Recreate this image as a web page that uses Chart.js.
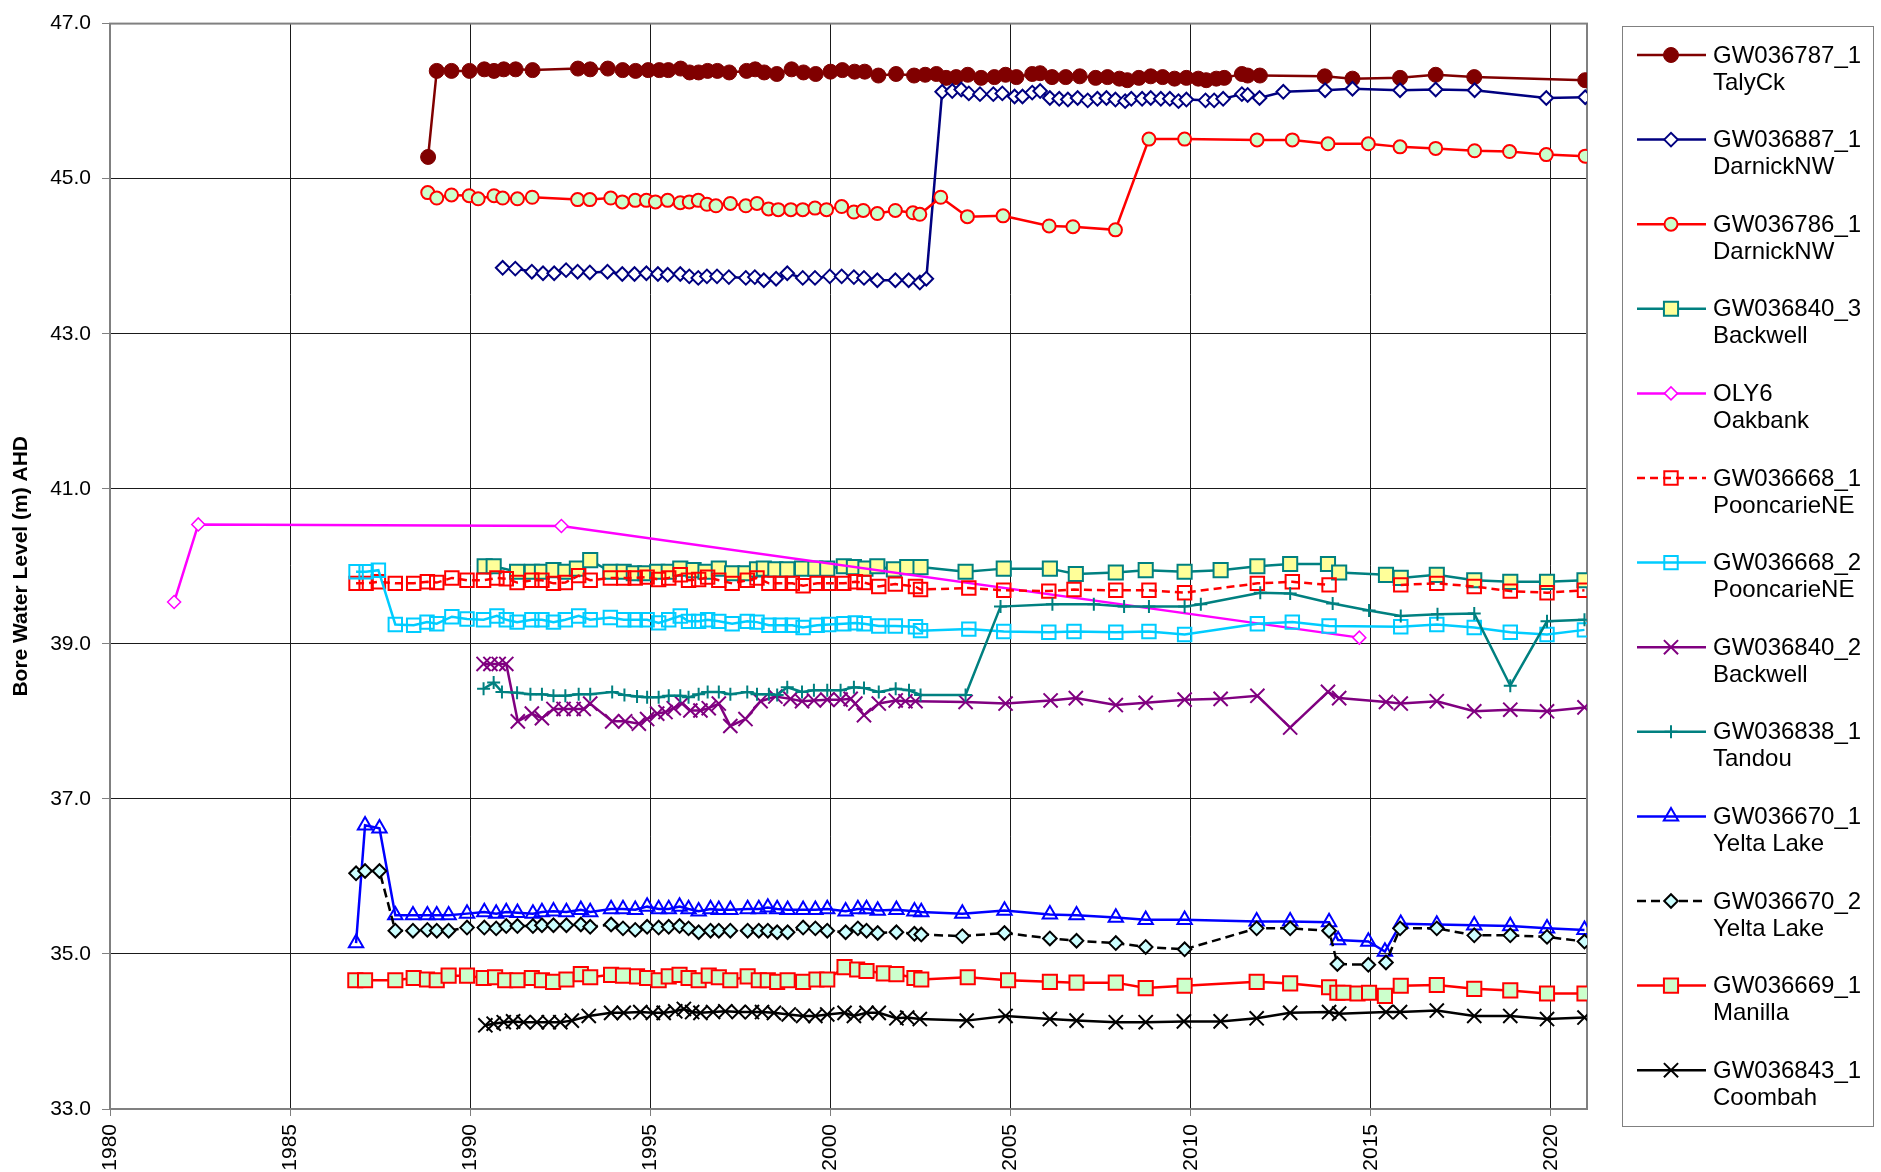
<!DOCTYPE html>
<html>
<head>
<meta charset="utf-8">
<title>Bore Water Levels</title>
<script src="https://cdn.jsdelivr.net/npm/chart.js@4.4.1/dist/chart.umd.min.js"></script>
<style>
    html, body { margin: 0; padding: 0; background: #fff; }
    canvas { display: block; }
</style>
</head>
<body>
<canvas id="levels" width="1881" height="1172"></canvas>
<script>
// bore ids and site names (two lines in the legend)
var boreIds = ["GW036787_1", "GW036887_1", "GW036786_1", "GW036840_3", "OLY6", "GW036668_1", "GW036668_2",
    "GW036840_2", "GW036838_1", "GW036670_1", "GW036670_2", "GW036669_1", "GW036843_1"];
var boreSites = ["TalyCk", "DarnickNW", "DarnickNW", "Backwell", "Oakbank", "PooncarieNE", "PooncarieNE",
    "Backwell", "Tandou", "Yelta Lake", "Yelta Lake", "Manilla", "Coombah"];

var yearTicks = [1980, 1985, 1990, 1995, 2000, 2005, 2010, 2015, 2020];
var levelTicks = [33, 35, 37, 39, 41, 43, 45, 47];

// [decimal year, level m AHD]
var talyCk = [[1988.83, 45.28], [1989.07, 46.39], [1989.48, 46.39], [1989.98, 46.39], [1990.39, 46.41], [1990.66, 46.39],
    [1990.93, 46.41], [1991.26, 46.41], [1991.73, 46.40], [1992.99, 46.42], [1993.33, 46.41], [1993.82, 46.42],
    [1994.23, 46.40], [1994.59, 46.39], [1994.94, 46.40], [1995.25, 46.40], [1995.50, 46.40], [1995.84, 46.42],
    [1996.09, 46.37], [1996.34, 46.37], [1996.59, 46.39], [1996.86, 46.39], [1997.19, 46.37], [1997.67, 46.39],
    [1997.91, 46.41], [1998.16, 46.37], [1998.51, 46.35], [1998.92, 46.41], [1999.25, 46.37], [1999.59, 46.35],
    [2000.00, 46.38], [2000.33, 46.40], [2000.67, 46.38], [2000.95, 46.38], [2001.33, 46.33], [2001.82, 46.35],
    [2002.32, 46.33], [2002.63, 46.34], [2002.94, 46.35], [2003.21, 46.30], [2003.49, 46.31], [2003.81, 46.34],
    [2004.18, 46.30], [2004.55, 46.31], [2004.86, 46.34], [2005.16, 46.31], [2005.60, 46.35], [2005.82, 46.36],
    [2006.15, 46.31], [2006.53, 46.31], [2006.92, 46.32], [2007.36, 46.30], [2007.69, 46.31], [2008.02, 46.29],
    [2008.24, 46.27], [2008.56, 46.30], [2008.89, 46.32], [2009.22, 46.31], [2009.55, 46.29], [2009.88, 46.30],
    [2010.21, 46.29], [2010.43, 46.27], [2010.71, 46.29], [2010.93, 46.30], [2011.42, 46.35], [2011.58, 46.33],
    [2011.92, 46.33], [2013.72, 46.32], [2014.49, 46.29], [2015.81, 46.30], [2016.80, 46.34], [2017.87, 46.31],
    [2020.95, 46.27]];

var darnick887 = [[1990.90, 43.85], [1991.25, 43.84], [1991.71, 43.80], [1992.02, 43.78], [1992.33, 43.78], [1992.66, 43.82],
    [1992.98, 43.80], [1993.32, 43.79], [1993.81, 43.80], [1994.22, 43.77], [1994.56, 43.77], [1994.89, 43.78],
    [1995.21, 43.77], [1995.48, 43.76], [1995.83, 43.77], [1996.08, 43.74], [1996.33, 43.72], [1996.57, 43.74],
    [1996.85, 43.74], [1997.18, 43.73], [1997.65, 43.72], [1997.90, 43.73], [1998.15, 43.69], [1998.49, 43.71],
    [1998.80, 43.78], [1999.23, 43.72], [1999.57, 43.72], [1999.98, 43.74], [2000.31, 43.74], [2000.65, 43.73],
    [2000.93, 43.72], [2001.30, 43.69], [2001.80, 43.69], [2002.17, 43.69], [2002.48, 43.66], [2002.66, 43.71],
    [2003.10, 46.12], [2003.38, 46.13], [2003.63, 46.15], [2003.84, 46.10], [2004.15, 46.09], [2004.52, 46.09],
    [2004.77, 46.10], [2005.11, 46.06], [2005.33, 46.06], [2005.60, 46.11], [2005.82, 46.13], [2006.09, 46.04],
    [2006.35, 46.03], [2006.59, 46.02], [2006.86, 46.04], [2007.14, 46.01], [2007.41, 46.03], [2007.66, 46.04],
    [2007.91, 46.02], [2008.18, 46.00], [2008.35, 46.03], [2008.65, 46.03], [2008.89, 46.04], [2009.17, 46.03],
    [2009.42, 46.03], [2009.66, 46.00], [2009.88, 46.02], [2010.41, 46.01], [2010.65, 46.01], [2010.90, 46.03],
    [2011.42, 46.09], [2011.58, 46.08], [2011.91, 46.04], [2012.57, 46.12], [2013.73, 46.14], [2014.49, 46.16],
    [2015.81, 46.14], [2016.80, 46.15], [2017.88, 46.14], [2019.87, 46.04], [2020.95, 46.05]];

var darnick786 = [[1988.82, 44.82], [1989.07, 44.75], [1989.48, 44.79], [1989.97, 44.78], [1990.22, 44.74], [1990.66, 44.78],
    [1990.90, 44.75], [1991.31, 44.74], [1991.72, 44.76], [1992.98, 44.73], [1993.32, 44.73], [1993.90, 44.75],
    [1994.22, 44.70], [1994.58, 44.72], [1994.89, 44.72], [1995.14, 44.70], [1995.48, 44.72], [1995.83, 44.69],
    [1996.08, 44.70], [1996.33, 44.72], [1996.57, 44.67], [1996.82, 44.65], [1997.22, 44.68], [1997.65, 44.65],
    [1997.96, 44.68], [1998.28, 44.61], [1998.55, 44.60], [1998.90, 44.60], [1999.23, 44.60], [1999.57, 44.62],
    [1999.89, 44.60], [2000.31, 44.64], [2000.65, 44.57], [2000.91, 44.59], [2001.30, 44.55], [2001.80, 44.59],
    [2002.29, 44.56], [2002.48, 44.54], [2003.06, 44.76], [2003.80, 44.51], [2004.79, 44.52], [2006.07, 44.39],
    [2006.73, 44.38], [2007.91, 44.34], [2008.84, 45.51], [2009.83, 45.51], [2011.84, 45.50], [2012.82, 45.50],
    [2013.81, 45.45], [2014.93, 45.45], [2015.81, 45.41], [2016.80, 45.39], [2017.88, 45.36], [2018.85, 45.35],
    [2019.87, 45.31], [2020.95, 45.29]];

var backwell3 = [[1990.40, 40.00], [1990.65, 40.00], [1991.30, 39.93], [1991.71, 39.93], [1991.99, 39.93], [1992.31, 39.95],
    [1992.64, 39.93], [1992.96, 39.97], [1993.33, 40.08], [1993.89, 39.93], [1994.26, 39.93], [1994.54, 39.91],
    [1994.86, 39.91], [1995.19, 39.93], [1995.51, 39.93], [1995.83, 39.97], [1996.20, 39.95], [1996.53, 39.93],
    [1996.90, 39.97], [1997.27, 39.91], [1997.64, 39.91], [1997.96, 39.96], [1998.15, 39.97], [1998.47, 39.96],
    [1998.80, 39.96], [1999.21, 39.97], [1999.58, 39.97], [1999.91, 39.97], [2000.37, 40.00], [2000.65, 39.99],
    [2000.97, 39.97], [2001.30, 40.00], [2001.76, 39.96], [2002.13, 39.99], [2002.50, 39.99], [2003.75, 39.93],
    [2004.81, 39.97], [2006.09, 39.97], [2006.81, 39.90], [2007.92, 39.92], [2008.75, 39.95], [2009.83, 39.93],
    [2010.83, 39.95], [2011.85, 40.00], [2012.76, 40.03], [2013.81, 40.03], [2014.12, 39.92], [2015.42, 39.89],
    [2015.83, 39.85], [2016.83, 39.89], [2017.87, 39.82], [2018.87, 39.80], [2019.89, 39.80], [2020.93, 39.82]];

var oakbank = [[1981.78, 39.54], [1982.45, 40.54], [1992.53, 40.52], [2014.68, 39.08]];

var pooncarie1 = [[1986.83, 39.78], [1987.11, 39.78], [1987.45, 39.80], [1987.92, 39.78], [1988.43, 39.78], [1988.81, 39.80],
    [1989.07, 39.79], [1989.49, 39.85], [1989.91, 39.82], [1990.37, 39.82], [1990.74, 39.85], [1991.00, 39.84],
    [1991.30, 39.79], [1991.71, 39.82], [1991.99, 39.82], [1992.31, 39.78], [1992.64, 39.79], [1993.01, 39.88],
    [1993.33, 39.82], [1993.89, 39.85], [1994.26, 39.85], [1994.58, 39.85], [1994.91, 39.86], [1995.23, 39.83],
    [1995.51, 39.85], [1995.83, 39.89], [1996.06, 39.82], [1996.34, 39.83], [1996.59, 39.86], [1996.90, 39.82],
    [1997.27, 39.78], [1997.69, 39.82], [1997.96, 39.85], [1998.29, 39.78], [1998.61, 39.78], [1998.94, 39.78],
    [1999.24, 39.75], [1999.63, 39.78], [1999.95, 39.78], [2000.37, 39.78], [2000.69, 39.80], [2000.93, 39.79],
    [2001.34, 39.74], [2001.80, 39.77], [2002.36, 39.74], [2002.50, 39.70], [2003.84, 39.72], [2004.81, 39.69],
    [2006.06, 39.68], [2006.76, 39.70], [2007.92, 39.69], [2008.84, 39.69], [2009.83, 39.66], [2011.85, 39.78],
    [2012.82, 39.80], [2013.84, 39.76], [2014.80, null], [2015.83, 39.76], [2016.83, 39.78], [2017.87, 39.74],
    [2018.87, 39.68], [2019.89, 39.66], [2020.93, 39.69]];

var pooncarie2 = [[1986.83, 39.93], [1987.11, 39.93], [1987.45, 39.95], [1987.92, 39.25], [1988.43, 39.24], [1988.80, 39.28],
    [1989.07, 39.26], [1989.49, 39.35], [1989.91, 39.32], [1990.37, 39.31], [1990.74, 39.36], [1991.00, 39.31],
    [1991.30, 39.28], [1991.71, 39.31], [1991.99, 39.31], [1992.31, 39.28], [1992.64, 39.31], [1993.01, 39.36],
    [1993.33, 39.31], [1993.89, 39.34], [1994.26, 39.31], [1994.58, 39.31], [1994.91, 39.31], [1995.23, 39.27],
    [1995.51, 39.31], [1995.83, 39.36], [1996.06, 39.29], [1996.34, 39.29], [1996.59, 39.31], [1996.90, 39.29],
    [1997.27, 39.26], [1997.69, 39.29], [1997.96, 39.28], [1998.29, 39.24], [1998.61, 39.24], [1998.94, 39.24],
    [1999.24, 39.21], [1999.63, 39.24], [1999.95, 39.25], [2000.37, 39.26], [2000.69, 39.27], [2000.93, 39.26],
    [2001.34, 39.23], [2001.80, 39.23], [2002.36, 39.22], [2002.50, 39.17], [2003.84, 39.19], [2004.81, 39.16],
    [2006.06, 39.15], [2006.76, 39.16], [2007.92, 39.15], [2008.84, 39.16], [2009.83, 39.12], [2011.85, 39.26],
    [2012.82, 39.28], [2013.84, 39.23], [2015.83, 39.22], [2016.83, 39.25], [2017.87, 39.21], [2018.87, 39.15],
    [2019.89, 39.12], [2020.93, 39.18]];

var backwell2 = [[1990.37, 38.74], [1990.56, 38.74], [1990.79, 38.74], [1991.00, 38.74], [1991.32, 38.00], [1991.71, 38.10],
    [1991.99, 38.04], [1992.31, 38.16], [1992.59, 38.16], [1992.87, 38.16], [1993.15, 38.16], [1993.33, 38.23],
    [1993.94, 38.00], [1994.30, 38.00], [1994.68, 37.97], [1994.91, 38.03], [1995.19, 38.10], [1995.42, 38.12],
    [1995.65, 38.17], [1995.88, 38.23], [1996.11, 38.14], [1996.39, 38.14], [1996.62, 38.17], [1996.90, 38.23],
    [1997.22, 37.94], [1997.64, 38.03], [1998.06, 38.26], [1998.47, 38.32], [1998.89, 38.29], [1999.21, 38.26],
    [1999.54, 38.27], [1999.91, 38.28], [2000.28, 38.28], [2000.56, 38.29], [2000.69, 38.23], [2000.93, 38.08],
    [2001.34, 38.23], [2001.81, 38.27], [2002.08, 38.26], [2002.36, 38.26], [2003.75, 38.25], [2004.86, 38.23],
    [2006.11, 38.27], [2006.81, 38.30], [2007.92, 38.21], [2008.75, 38.24], [2009.83, 38.28], [2010.83, 38.29],
    [2011.85, 38.33], [2012.76, 37.92], [2013.81, 38.38], [2014.12, 38.30], [2015.42, 38.25], [2015.83, 38.23],
    [2016.83, 38.26], [2017.87, 38.13], [2018.87, 38.15], [2019.89, 38.13], [2020.93, 38.18]];

var tandou = [[1990.37, 38.42], [1990.65, 38.50], [1990.88, 38.38], [1991.30, 38.37], [1991.67, 38.35], [1991.99, 38.35],
    [1992.31, 38.33], [1992.64, 38.33], [1993.01, 38.35], [1993.33, 38.35], [1993.94, 38.38], [1994.28, 38.34],
    [1994.63, 38.32], [1994.91, 38.31], [1995.23, 38.31], [1995.51, 38.33], [1995.83, 38.33], [1996.06, 38.31],
    [1996.34, 38.35], [1996.59, 38.38], [1996.90, 38.38], [1997.22, 38.35], [1997.69, 38.38], [1997.96, 38.35],
    [1998.29, 38.35], [1998.52, 38.34], [1998.80, 38.44], [1999.21, 38.38], [1999.54, 38.40], [1999.91, 38.40],
    [2000.28, 38.40], [2000.65, 38.44], [2000.93, 38.43], [2001.34, 38.38], [2001.81, 38.42], [2002.18, 38.40],
    [2002.50, 38.34], [2003.75, 38.34], [2004.72, 39.48], [2006.16, 39.51], [2007.31, 39.51], [2008.15, 39.48],
    [2008.84, 39.48], [2009.83, 39.48], [2010.28, 39.51], [2011.93, 39.66], [2012.76, 39.65], [2013.94, 39.52],
    [2014.95, 39.43], [2015.83, 39.36], [2016.85, 39.38], [2017.87, 39.39], [2018.87, 38.46], [2019.89, 39.29],
    [2020.93, 39.31]];

var yelta1 = [[1986.83, 35.14], [1987.08, 36.66], [1987.48, 36.62], [1987.92, 35.50], [1988.41, 35.50], [1988.81, 35.50],
    [1989.07, 35.50], [1989.40, 35.50], [1989.91, 35.52], [1990.39, 35.54], [1990.72, 35.52], [1991.00, 35.54],
    [1991.31, 35.53], [1991.74, 35.52], [1991.99, 35.54], [1992.31, 35.55], [1992.67, 35.54], [1993.07, 35.57],
    [1993.33, 35.54], [1993.91, 35.58], [1994.24, 35.58], [1994.58, 35.57], [1994.91, 35.61], [1995.23, 35.58],
    [1995.51, 35.58], [1995.81, 35.61], [1996.06, 35.58], [1996.34, 35.55], [1996.67, 35.58], [1996.90, 35.57],
    [1997.22, 35.57], [1997.70, 35.58], [1998.01, 35.58], [1998.26, 35.60], [1998.52, 35.58], [1998.81, 35.57],
    [1999.24, 35.57], [1999.58, 35.57], [1999.91, 35.58], [2000.42, 35.55], [2000.76, 35.58], [2001.00, 35.58],
    [2001.31, 35.56], [2001.83, 35.57], [2002.33, 35.55], [2002.52, 35.54], [2003.66, 35.52], [2004.83, 35.56],
    [2006.09, 35.51], [2006.83, 35.50], [2007.92, 35.47], [2008.75, 35.44], [2009.83, 35.44], [2011.83, 35.42],
    [2012.76, 35.42], [2013.84, 35.41], [2014.09, 35.18], [2014.93, 35.16], [2015.39, 35.03], [2015.83, 35.39],
    [2016.83, 35.38], [2017.87, 35.37], [2018.87, 35.36], [2019.89, 35.33], [2020.93, 35.31]];

var yelta2 = [[1986.83, 36.04], [1987.08, 36.07], [1987.48, 36.07], [1987.92, 35.30], [1988.41, 35.30], [1988.81, 35.31],
    [1989.07, 35.30], [1989.40, 35.30], [1989.91, 35.34], [1990.39, 35.34], [1990.72, 35.33], [1991.00, 35.36],
    [1991.31, 35.36], [1991.74, 35.36], [1991.99, 35.37], [1992.31, 35.37], [1992.67, 35.37], [1993.07, 35.38],
    [1993.33, 35.35], [1993.91, 35.38], [1994.24, 35.33], [1994.58, 35.31], [1994.91, 35.35], [1995.23, 35.34],
    [1995.51, 35.35], [1995.81, 35.36], [1996.06, 35.33], [1996.34, 35.28], [1996.67, 35.30], [1996.90, 35.30],
    [1997.22, 35.30], [1997.70, 35.30], [1998.01, 35.30], [1998.26, 35.30], [1998.52, 35.28], [1998.81, 35.28],
    [1999.24, 35.34], [1999.58, 35.33], [1999.91, 35.30], [2000.42, 35.28], [2000.76, 35.33], [2001.00, 35.30],
    [2001.31, 35.27], [2001.83, 35.28], [2002.33, 35.26], [2002.52, 35.25], [2003.66, 35.23], [2004.83, 35.27],
    [2006.09, 35.20], [2006.83, 35.17], [2007.92, 35.14], [2008.75, 35.09], [2009.83, 35.06], [2011.83, 35.33],
    [2012.76, 35.33], [2013.84, 35.30], [2014.07, 34.87], [2014.93, 34.86], [2015.42, 34.89], [2015.81, 35.33],
    [2016.83, 35.33], [2017.87, 35.24], [2018.87, 35.24], [2019.89, 35.22], [2020.93, 35.16]];

var manilla = [[1986.81, 34.66], [1987.08, 34.66], [1987.92, 34.66], [1988.43, 34.69], [1988.80, 34.67], [1989.07, 34.66],
    [1989.40, 34.72], [1989.91, 34.72], [1990.37, 34.69], [1990.69, 34.70], [1990.97, 34.66], [1991.31, 34.66],
    [1991.71, 34.69], [1991.99, 34.66], [1992.30, 34.64], [1992.67, 34.67], [1993.07, 34.74], [1993.33, 34.70],
    [1993.91, 34.73], [1994.24, 34.72], [1994.63, 34.71], [1994.91, 34.69], [1995.23, 34.66], [1995.51, 34.71],
    [1995.81, 34.73], [1996.06, 34.69], [1996.34, 34.66], [1996.62, 34.72], [1996.90, 34.70], [1997.22, 34.66],
    [1997.70, 34.71], [1998.01, 34.66], [1998.26, 34.66], [1998.52, 34.64], [1998.81, 34.66], [1999.24, 34.64],
    [1999.61, 34.67], [1999.91, 34.67], [2000.39, 34.83], [2000.74, 34.80], [2001.00, 34.78], [2001.48, 34.75],
    [2001.83, 34.74], [2002.33, 34.69], [2002.52, 34.67], [2003.81, 34.70], [2004.93, 34.66], [2006.09, 34.64],
    [2006.83, 34.63], [2007.92, 34.63], [2008.75, 34.56], [2009.83, 34.59], [2011.83, 34.64], [2012.76, 34.62],
    [2013.84, 34.57], [2014.07, 34.50], [2014.24, 34.50], [2014.63, 34.49], [2014.95, 34.50], [2015.39, 34.46],
    [2015.83, 34.59], [2016.83, 34.60], [2017.87, 34.55], [2018.87, 34.53], [2019.89, 34.49], [2020.93, 34.49]];

var coombah = [[1990.42, 34.08], [1990.65, 34.10], [1990.93, 34.12], [1991.19, 34.13], [1991.48, 34.12], [1991.85, 34.12],
    [1992.18, 34.12], [1992.50, 34.12], [1992.82, 34.14], [1993.29, 34.20], [1993.91, 34.24], [1994.26, 34.24],
    [1994.72, 34.25], [1995.07, 34.24], [1995.37, 34.24], [1995.69, 34.26], [1995.93, 34.29], [1996.16, 34.25],
    [1996.39, 34.24], [1996.74, 34.25], [1997.08, 34.26], [1997.45, 34.25], [1997.82, 34.25], [1998.10, 34.25],
    [1998.43, 34.24], [1998.84, 34.22], [1999.24, 34.20], [1999.58, 34.20], [1999.91, 34.22], [2000.39, 34.24],
    [2000.65, 34.20], [2001.00, 34.24], [2001.34, 34.24], [2001.83, 34.17], [2002.13, 34.18], [2002.48, 34.16],
    [2003.78, 34.14], [2004.86, 34.20], [2006.09, 34.16], [2006.83, 34.14], [2007.92, 34.12], [2008.75, 34.12],
    [2009.81, 34.13], [2010.83, 34.13], [2011.83, 34.17], [2012.76, 34.24], [2013.84, 34.25], [2014.12, 34.23],
    [2015.42, 34.25], [2015.81, 34.25], [2016.83, 34.27], [2017.87, 34.20], [2018.87, 34.20], [2019.89, 34.16],
    [2020.93, 34.18]];

var boreSeries = [talyCk, darnick887, darnick786, backwell3, oakbank, pooncarie1, pooncarie2,
    backwell2, tandou, yelta1, yelta2, manilla, coombah];

// line colour, marker shape, marker fill, marker edge, marker radius, dash
var boreStyles = [
    {line: "#800000", shape: "circle", fill: "#800000", edge: "#800000", r: 7.5, bw: 1},
    {line: "#000080", shape: "rectRot", fill: "#ffffff", edge: "#000080", r: 6.8, bw: 2},
    {line: "#ff0000", shape: "circle", fill: "#ccffcc", edge: "#ff0000", r: 6.5, bw: 2},
    {line: "#008080", shape: "rect", fill: "#ffff99", edge: "#008080", r: 10, bw: 2},
    {line: "#ff00ff", shape: "rectRot", fill: "#ffffff", edge: "#ff00ff", r: 6.5, bw: 1.5},
    {line: "#ff0000", shape: "rect", fill: "rgba(0,0,0,0)", edge: "#ff0000", r: 9.5, bw: 2, dash: [8, 5]},
    {line: "#00ccff", shape: "rect", fill: "rgba(0,0,0,0)", edge: "#00ccff", r: 9.5, bw: 2},
    {line: "#800080", shape: "crossRot", fill: "#800080", edge: "#800080", r: 10, bw: 2},
    {line: "#008080", shape: "cross", fill: "#008080", edge: "#008080", r: 6.5, bw: 2},
    {line: "#0000ff", shape: "triangle", fill: "rgba(0,0,0,0)", edge: "#0000ff", r: 8.3, bw: 2},
    {line: "#000000", shape: "rectRot", fill: "#ccffff", edge: "#000000", r: 6.8, bw: 2, dash: [9, 5]},
    {line: "#ff0000", shape: "rect", fill: "#ccffcc", edge: "#ff0000", r: 10, bw: 2},
    {line: "#000000", shape: "crossRot", fill: "#000000", edge: "#000000", r: 10, bw: 2}
];

var FONT = "'Liberation Sans', Arial, Helvetica, sans-serif";
Chart.defaults.font.family = FONT;
Chart.defaults.color = "#000";

function make_datasets() {
    return boreSeries.map(function (rows, i) {
        var st = boreStyles[i];
        return {
            label: boreIds[i] + " " + boreSites[i],
            data: rows.map(function (r) { return {x: r[0], y: r[1]}; }),
            borderColor: st.line,
            borderWidth: 2.5,
            borderDash: st.dash || [],
            backgroundColor: st.fill,
            pointStyle: st.shape,
            pointRadius: st.r,
            pointBackgroundColor: st.fill,
            pointBorderColor: st.edge,
            pointBorderWidth: st.bw,
            tension: 0,
            spanGaps: false,
            order: -i
        };
    });
}

// grey frame round the plot area
var plotFrame = {
    id: "plotFrame",
    beforeDatasetsDraw: function (chart) {
        var a = chart.chartArea;
        var ctx = chart.ctx;
        ctx.save();
        ctx.strokeStyle = "#808080";
        ctx.lineWidth = 2;
        ctx.strokeRect(a.left, a.top, a.right - a.left, a.bottom - a.top);
        ctx.restore();
    }
};

// boxed legend on the right, id and site on two lines
var boreLegend = {
    id: "boreLegend",
    afterDraw: function (chart) {
        var ctx = chart.ctx;
        ctx.save();
        ctx.strokeStyle = "#808080";
        ctx.lineWidth = 1;
        ctx.strokeRect(1622.5, 26.5, 251, 1100);
        chart.data.datasets.forEach(function (ds, i) {
            var y = 55 + i * 84.6;
            ctx.strokeStyle = ds.borderColor;
            ctx.lineWidth = 2.5;
            ctx.setLineDash(ds.borderDash);
            ctx.beginPath();
            ctx.moveTo(1637, y);
            ctx.lineTo(1706, y);
            ctx.stroke();
            ctx.setLineDash([]);
            ctx.fillStyle = ds.pointBackgroundColor;
            ctx.strokeStyle = ds.pointBorderColor;
            ctx.lineWidth = ds.pointBorderWidth;
            Chart.helpers.drawPoint(ctx, {
                pointStyle: ds.pointStyle,
                radius: ds.pointRadius,
                rotation: 0,
                borderWidth: ds.pointBorderWidth
            }, 1671, y);
            ctx.fillStyle = "#000";
            ctx.font = "24px " + FONT;
            ctx.textBaseline = "middle";
            ctx.textAlign = "left";
            ctx.fillText(boreIds[i], 1713, y + 1);
            ctx.fillText(boreSites[i], 1713, y + 28);
        });
        ctx.restore();
    }
};

var ctx = document.getElementById("levels");
var levelChart = new Chart(ctx, {
    type: "line",
    data: {datasets: make_datasets()},
    plugins: [plotFrame, boreLegend],
    options: {
        responsive: false,
        animation: false,
        events: [],
        layout: {padding: {left: 0, top: 16, right: 294, bottom: 0}},
        plugins: {legend: {display: false}, tooltip: {enabled: false}},
        scales: {
            x: {
                type: "linear",
                min: 1980,
                max: 2021,
                afterBuildTicks: function (s) {
                    s.ticks = yearTicks.map(function (v) { return {value: v}; });
                },
                afterFit: function (s) { s.height = 63; },
                grid: {color: "#1a1a1a", lineWidth: 1, tickLength: 7, tickColor: "#808080"},
                border: {color: "#808080", width: 2},
                ticks: {
                    minRotation: 90,
                    maxRotation: 90,
                    padding: 8,
                    font: {size: 21},
                    callback: function (v) { return String(v); }
                }
            },
            y: {
                type: "linear",
                min: 33,
                max: 47,
                afterBuildTicks: function (s) {
                    s.ticks = levelTicks.map(function (v) { return {value: v}; });
                },
                afterFit: function (s) { s.width = 110; },
                grid: {color: "#1a1a1a", lineWidth: 1, tickLength: 8, tickColor: "#808080"},
                border: {color: "#808080", width: 2},
                ticks: {
                    padding: 11,
                    font: {size: 21},
                    callback: function (v) { return v.toFixed(1); }
                },
                title: {
                    display: true,
                    text: "Bore Water Level (m) AHD",
                    font: {size: 21, weight: "bold"},
                    padding: {top: 9, bottom: 0}
                }
            }
        }
    }
});
</script>
</body>
</html>
